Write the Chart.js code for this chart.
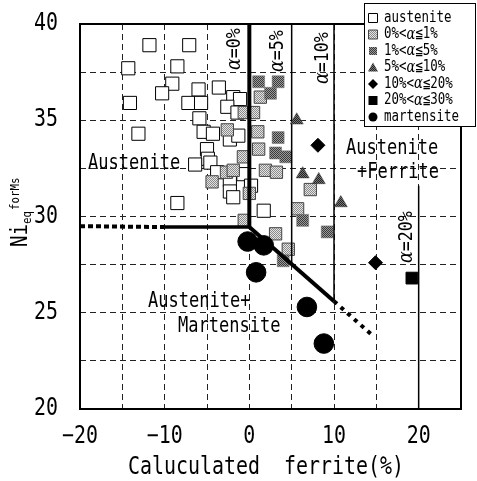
<!DOCTYPE html>
<html>
<head>
<meta charset="utf-8">
<script src="https://cdn.jsdelivr.net/npm/chart.js@4.4.1/dist/chart.umd.min.js"></script>
<style>
  html, body { margin: 0; padding: 0; background: #fff; }
  #chart { display: block; }
</style>
</head>
<body>
<canvas id="chart" width="477" height="481"></canvas>
<script>
// Calculated ferrite (%) vs Ni equivalent for Ms, grouped by measured ferrite
const austenite = [
    [-11.8, 38.9], [-7.1, 38.9], [-14.3, 37.7], [-8.5, 37.8], [-9.1, 36.9], [-10.3, 36.4],
    [-14.1, 35.9], [-6.0, 36.6], [-3.6, 36.7], [-7.2, 35.9], [-5.7, 35.9], [-1.9, 36.2],
    [-1.1, 36.1], [-2.6, 35.7], [-5.9, 35.1], [-1.4, 35.4], [-13.1, 34.3], [-5.4, 34.4],
    [-4.3, 34.3], [-2.3, 34.0], [-1.3, 34.2], [-5.0, 33.5], [-4.9, 33.0], [-6.4, 32.7],
    [-4.6, 32.8], [-3.8, 32.3], [-0.7, 32.2], [-2.3, 31.9], [-8.5, 30.7], [-2.3, 31.3],
    [-1.9, 31.0], [0.2, 31.6], [1.7, 30.3]
];
const ferrite0to1 = [
    [-2.6, 34.5], [-0.7, 33.1], [-2.7, 32.3], [-4.4, 31.8], [0.0, 31.2], [-0.6, 35.4],
    [0.5, 35.4], [1.3, 36.2], [1.0, 34.4], [1.1, 33.5], [1.9, 32.4], [3.2, 32.3],
    [-1.9, 32.4], [-0.6, 29.8], [5.7, 30.4], [3.1, 29.1], [7.2, 31.4], [4.6, 28.3]
];
const ferrite1to5 = [
    [1.1, 37.0], [3.4, 37.0], [2.5, 36.4], [3.4, 34.1], [3.1, 33.3], [4.3, 33.1],
    [6.3, 29.8], [9.2, 29.2], [4.0, 27.7]
];
const ferrite5to10 = [[5.6, 35.0], [6.3, 32.2], [8.2, 31.9], [10.8, 30.7]];
const ferrite10to20 = [[8.1, 33.7], [14.9, 27.6]];
const ferrite20to30 = [[19.2, 26.8]];
const martensite = [[-0.2, 28.7], [1.7, 28.5], [0.8, 27.1], [6.8, 25.3], [8.8, 23.4]];

const seriesLabels = ['austenite', '0%<α≦1%', '1%<α≦5%', '5%<α≦10%', '10%<α≦20%', '20%<α≦30%', 'martensite'];

const xTicks = [-20, -10, 0, 10, 20];
const yTicks = [20, 25, 30, 35, 40];

// phase boundaries (Schaeffler-type)
const alpha0Line = [[0, 40], [0, 29.45]];
const msLine = [[-10, 29.45], [0, 29.45]];
const msLineExtended = [[-20, 29.5], [-10, 29.45]];
const msDiagonal = [[0, 29.45], [10, 25.6]];
const msDiagonalExtended = [[10, 25.6], [14.6, 23.8]];
const alpha5Line = [[5, 40], [5, 27.53]];
const alpha10Line = [[10, 40], [10, 25.6]];
const alpha20Line = [[20, 31.6], [20, 20]];

const MONO = '"DejaVu Sans Mono", "Noto Sans CJK JP", monospace';
const SX = 0.83; // narrow the mono face horizontally

const toPts = arr => arr.map(([x, y]) => ({ x, y }));

function dither(c1, c2) {
    const cv = document.createElement('canvas');
    cv.width = cv.height = 2;
    const g = cv.getContext('2d');
    g.fillStyle = c1;
    g.fillRect(0, 0, 2, 2);
    g.fillStyle = c2;
    g.fillRect(0, 0, 1, 1);
    g.fillRect(1, 1, 1, 1);
    return g.createPattern(cv, 'repeat');
}

const lightGray = dither('#e4e4e4', '#8a8a8a');
const darkGray = dither('#9a9a9a', '#3a3a3a');
const triGray = dither('#777', '#222');

function boundary(points, width, dash) {
    return {
        data: toPts(points),
        showLine: true,
        borderColor: '#000',
        borderWidth: width,
        borderDash: dash || [],
        borderCapStyle: 'butt',
        pointRadius: 0,
        order: 4
    };
}

// text helpers: mono face squeezed by SX, α drawn in italic serif
function segments(str) {
    return str.split(/(α)/).filter(s => s).map(t => ({ t, greek: t === 'α' }));
}
function segFont(seg, size) {
    return seg.greek ? `italic ${size * 1.05}px "DejaVu Serif", serif` : `${size}px ${MONO}`;
}
function textWidth(ctx, str, size) {
    let w = 0;
    for (const seg of segments(str)) {
        ctx.font = segFont(seg, size);
        w += ctx.measureText(seg.t).width * SX;
    }
    return w;
}
function drawRich(ctx, str, size) {
    let x = 0;
    for (const seg of segments(str)) {
        ctx.font = segFont(seg, size);
        ctx.save();
        ctx.translate(x, 0);
        ctx.scale(SX, 1);
        ctx.fillText(seg.t, 0, 0);
        ctx.restore();
        x += ctx.measureText(seg.t).width * SX;
    }
    return x;
}
function putText(ctx, str, x, y, size, align, rotated) {
    ctx.save();
    ctx.fillStyle = '#000';
    ctx.textAlign = 'left';
    ctx.textBaseline = 'middle';
    const w = textWidth(ctx, str, size);
    let off = 0;
    if (align === 'center') off = -w / 2;
    else if (align === 'right') off = -w;
    ctx.translate(x, y);
    if (rotated) ctx.rotate(-Math.PI / 2);
    ctx.translate(off, 0);
    drawRich(ctx, str, size);
    ctx.restore();
}

function legendMarker(ctx, i, x, y) {
    ctx.save();
    ctx.lineWidth = 1;
    ctx.strokeStyle = '#000';
    ctx.beginPath();
    if (i === 0) {
        ctx.fillStyle = '#fff';
        ctx.rect(x - 4.5, y - 4.5, 9, 9);
        ctx.fill();
        ctx.stroke();
    } else if (i === 1) {
        ctx.fillStyle = lightGray;
        ctx.strokeStyle = '#444';
        ctx.rect(x - 4.5, y - 4.5, 9, 9);
        ctx.fill();
        ctx.stroke();
    } else if (i === 2) {
        ctx.fillStyle = darkGray;
        ctx.fillRect(x - 4, y - 4, 8, 8);
    } else if (i === 3) {
        ctx.fillStyle = triGray;
        ctx.moveTo(x, y - 5);
        ctx.lineTo(x + 5, y + 4);
        ctx.lineTo(x - 5, y + 4);
        ctx.closePath();
        ctx.fill();
    } else if (i === 4) {
        ctx.fillStyle = '#000';
        ctx.moveTo(x, y - 5);
        ctx.lineTo(x + 5, y);
        ctx.lineTo(x, y + 5);
        ctx.lineTo(x - 5, y);
        ctx.closePath();
        ctx.fill();
    } else if (i === 5) {
        ctx.fillStyle = '#000';
        ctx.fillRect(x - 4.5, y - 4.5, 9, 9);
    } else {
        ctx.fillStyle = '#000';
        ctx.arc(x, y, 4.5, 0, Math.PI * 2);
        ctx.fill();
    }
    ctx.restore();
}

const annotations = {
    id: 'annotations',
    afterDraw(chart) {
        const ctx = chart.ctx;
        const area = chart.chartArea;
        const xs = chart.scales.x;
        const ys = chart.scales.y;

        // plot frame
        ctx.save();
        ctx.strokeStyle = '#000';
        ctx.lineWidth = 2;
        ctx.strokeRect(area.left, area.top, area.right - area.left, area.bottom - area.top);
        ctx.restore();

        // tick labels
        xTicks.forEach(v => {
            const s = v < 0 ? '\u2212' + Math.abs(v) : String(v);
            putText(ctx, s, xs.getPixelForValue(v), 437, 24, 'center');
        });
        yTicks.forEach(v => {
            putText(ctx, String(v), 58, ys.getPixelForValue(v), 24, 'right');
        });

        // axis titles
        putText(ctx, 'Caluculated  ferrite(%)', 266, 468, 24, 'center');
        ctx.save();
        ctx.fillStyle = '#000';
        ctx.textBaseline = 'alphabetic';
        ctx.translate(27, 247);
        ctx.rotate(-Math.PI / 2);
        let w = drawRich(ctx, 'Ni', 23);
        ctx.translate(w, 4);
        w = drawRich(ctx, 'eq', 13);
        ctx.translate(w + 1, -12);
        drawRich(ctx, 'forMs', 13);
        ctx.restore();

        // phase region names
        putText(ctx, 'Austenite', 88, 164, 20.5, 'left');
        putText(ctx, 'Austenite', 346, 149, 20.5, 'left');
        putText(ctx, '+Ferrite', 357, 173, 20.5, 'left');
        putText(ctx, 'Austenite+', 148, 302, 20.5, 'left');
        putText(ctx, 'Martensite', 178, 327, 20.5, 'left');

        // iso-ferrite line labels
        putText(ctx, 'α=0%', 235, 70, 20, 'left', true);
        putText(ctx, 'α=5%', 278, 72, 20, 'left', true);
        putText(ctx, 'α=10%', 323, 84, 20, 'left', true);
        putText(ctx, 'α=20%', 407, 263, 20, 'left', true);

        // legend
        const lx = 364, ly = 3, lw = 111, lh = 123;
        ctx.save();
        ctx.fillStyle = '#fff';
        ctx.fillRect(lx, ly, lw, lh);
        ctx.strokeStyle = '#000';
        ctx.lineWidth = 1;
        ctx.strokeRect(lx + 0.5, ly + 0.5, lw, lh);
        ctx.restore();
        seriesLabels.forEach((label, i) => {
            const y = ly + 15 + i * 16.5;
            legendMarker(ctx, i, lx + 9, y);
            putText(ctx, label, lx + 20, y, 15, 'left');
        });
    }
};

new Chart(document.getElementById('chart'), {
    type: 'scatter',
    data: {
        datasets: [
            { label: seriesLabels[0], data: toPts(austenite), pointStyle: 'rect', pointRadius: 9.3,
              backgroundColor: '#fff', borderColor: '#000', borderWidth: 1, order: 9 },
            { label: seriesLabels[1], data: toPts(ferrite0to1), pointStyle: 'rect', pointRadius: 8.7,
              backgroundColor: lightGray, borderColor: '#444', borderWidth: 1, order: 8 },
            { label: seriesLabels[2], data: toPts(ferrite1to5), pointStyle: 'rect', pointRadius: 8.5,
              backgroundColor: darkGray, borderColor: '#777', borderWidth: 0.5, order: 7 },
            { label: seriesLabels[3], data: toPts(ferrite5to10), pointStyle: 'triangle', pointRadius: 7.5,
              backgroundColor: triGray, borderColor: '#333', borderWidth: 0.5, order: 3 },
            { label: seriesLabels[4], data: toPts(ferrite10to20), pointStyle: 'rectRot', pointRadius: 7,
              backgroundColor: '#000', borderColor: '#000', borderWidth: 1, order: 2 },
            { label: seriesLabels[5], data: toPts(ferrite20to30), pointStyle: 'rect', pointRadius: 8.3,
              backgroundColor: '#000', borderColor: '#000', borderWidth: 1, order: 2 },
            { label: seriesLabels[6], data: toPts(martensite), pointStyle: 'circle', pointRadius: 9.8,
              backgroundColor: '#000', borderColor: '#000', borderWidth: 1, order: 1 },
            boundary(alpha0Line, 4),
            boundary(msLine, 3.5),
            boundary(msLineExtended, 4, [5, 3]),
            boundary(msDiagonal, 4),
            boundary(msDiagonalExtended, 4, [4, 5]),
            boundary(alpha5Line, 1.5),
            boundary(alpha10Line, 1.5),
            boundary(alpha20Line, 1.5)
        ]
    },
    options: {
        responsive: false,
        animation: false,
        events: [],
        layout: { padding: { left: 80, top: 24, right: 16, bottom: 72 } },
        plugins: { legend: { display: false }, tooltip: { enabled: false } },
        scales: {
            x: {
                type: 'linear', min: -20, max: 25,
                ticks: { stepSize: 5, display: false },
                grid: { color: '#222', lineWidth: 1, drawTicks: false },
                border: { display: false, dash: [6, 4] }
            },
            y: {
                type: 'linear', min: 20, max: 40,
                ticks: { stepSize: 2.5, display: false },
                grid: { color: '#222', lineWidth: 1, drawTicks: false },
                border: { display: false, dash: [6, 4] }
            }
        }
    },
    plugins: [annotations]
});
</script>
</body>
</html>
